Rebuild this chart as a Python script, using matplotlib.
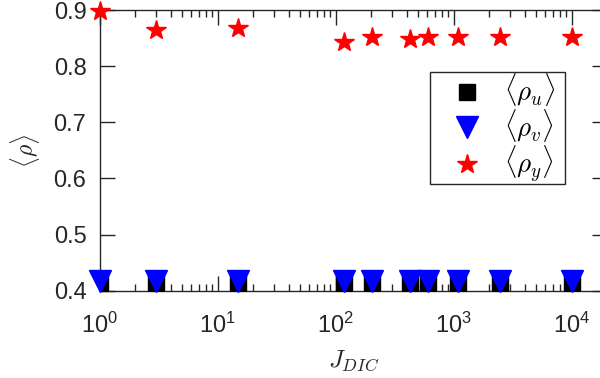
import numpy as np
import matplotlib
matplotlib.use("Agg")
import matplotlib.pyplot as plt
from matplotlib.font_manager import FontProperties
from matplotlib.patches import Rectangle
from matplotlib.ticker import LogLocator, FixedLocator, FuncFormatter, NullFormatter

# Correlation coefficients versus DIC regularisation weight
j_dic = [1, 3, 15, 117, 203, 430, 612, 1090, 2470, 10100]
rho_u = [0.413, 0.413, 0.413, 0.413, 0.413, 0.413, 0.413, 0.413, 0.413, 0.413]
rho_v = [0.418, 0.418, 0.418, 0.418, 0.418, 0.418, 0.418, 0.418, 0.418, 0.418]
rho_y = [0.899, 0.865, 0.869, 0.843, 0.852, 0.848, 0.852, 0.852, 0.852, 0.852]

y_ticks = [0.4, 0.5, 0.6, 0.7, 0.8, 0.9]
x_ticks = [1, 10, 100, 1000, 10000]

plt.rcParams["font.family"] = ["Liberation Sans", "DejaVu Sans"]
plt.rcParams["mathtext.fontset"] = "custom"
plt.rcParams["mathtext.rm"] = "Liberation Sans"
plt.rcParams["mathtext.it"] = "Liberation Sans:italic"

ink = "#262626"
fig = plt.figure(figsize=(6.0, 3.78), dpi=100)
ax = fig.add_axes([0.166, 0.2312, 1.0117 - 0.166, 0.9728 - 0.2312])

ax.plot(j_dic, rho_u, "s", color="k", ms=11.5, mec="k", label=r"$\langle\rho_u\rangle$", zorder=3)
ax.plot(j_dic, rho_v, "v", color="#0000ff", ms=16, mec="#0000ff", label=r"$\langle\rho_v\rangle$",
        clip_on=False, zorder=4)
ax.plot(j_dic, rho_y, "*", color="#ff0000", ms=15, mec="#ff0000", label=r"$\langle\rho_y\rangle$",
        clip_on=False, zorder=5)

ax.set_xscale("log")
ax.set_xlim(1, 2.0e4)
ax.set_ylim(0.4, 0.9)
ax.xaxis.set_major_locator(FixedLocator(x_ticks))
ax.xaxis.set_major_formatter(FuncFormatter(lambda v, p: r"$10^{%d}$" % round(np.log10(v))))
ax.xaxis.set_minor_locator(LogLocator(base=10, subs=np.arange(2, 10), numticks=20))
ax.xaxis.set_minor_formatter(NullFormatter())
ax.set_yticks(y_ticks)
ax.set_yticklabels(["%.1f" % v for v in y_ticks])

for s in ax.spines.values():
    s.set_color(ink)
    s.set_linewidth(1.0)
ax.tick_params(which="both", direction="in", top=True, right=True, colors=ink,
               labelcolor=ink, labelsize=17)
ax.tick_params(which="major", length=11, width=1.0)
ax.tick_params(which="minor", length=5, width=1.0)
ax.tick_params(axis="y", pad=9.5)
ax.tick_params(axis="x", pad=16.2)

ax.set_xlabel(r"$J_{DIC}$", fontproperties=FontProperties(size=18, math_fontfamily="cm"),
              color=ink, labelpad=7.5)
ax.set_ylabel(r"$\langle\rho\rangle$", fontproperties=FontProperties(size=17, math_fontfamily="cm"),
              color=ink, labelpad=8.5)

leg = ax.legend(loc="upper right", bbox_to_anchor=(555.5 / 600, 1 - 72 / 378),
                bbox_transform=fig.transFigure, prop=FontProperties(size=19.5, math_fontfamily="cm"),
                frameon=True, fancybox=False, framealpha=1, edgecolor="none",
                handletextpad=-0.02, labelspacing=-0.03, borderpad=0.0, handlelength=2.75,
                borderaxespad=0)

# Legend outline with a little extra room to the right of the labels
fig.canvas.draw()
bb = leg.get_window_extent(fig.canvas.get_renderer())
(x0, y0), (x1, y1) = fig.transFigure.inverted().transform([[bb.x0, bb.y0], [bb.x1 + 9.5, bb.y1]])
fig.add_artist(Rectangle((x0, y0), x1 - x0, y1 - y0, transform=fig.transFigure,
                         fill=False, edgecolor=ink, linewidth=1.0, zorder=10))

fig.savefig("out.png", dpi=100)
